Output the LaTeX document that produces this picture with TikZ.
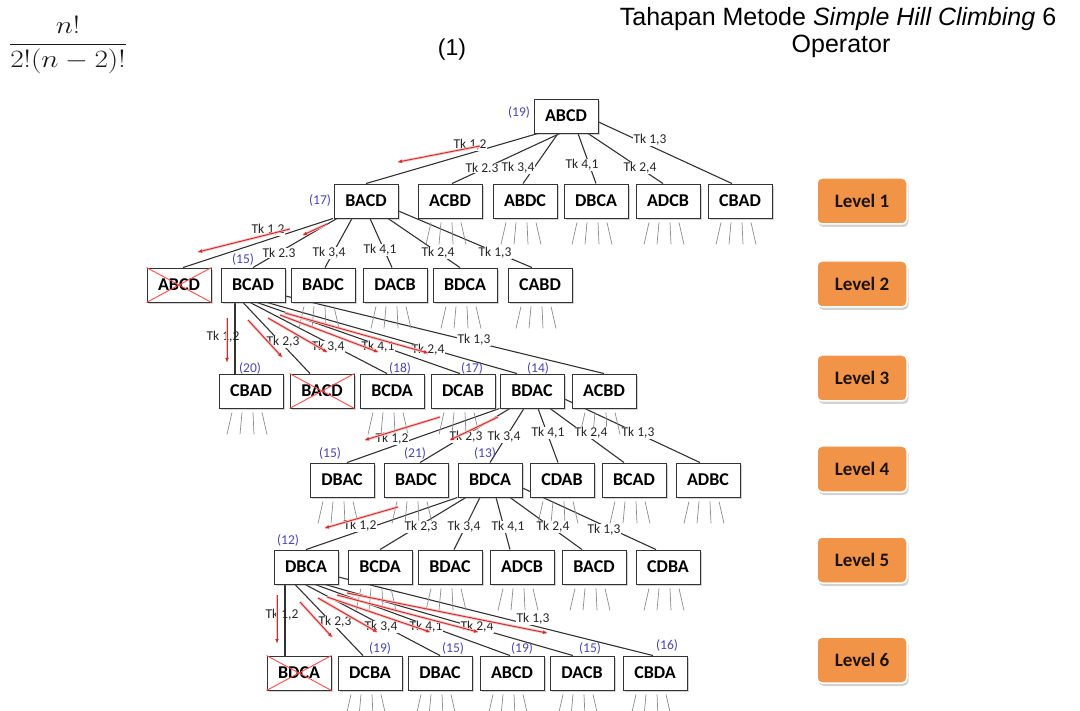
\documentclass[tikz,border=0pt]{standalone}
\usepackage{fontspec}
\usepackage{amsmath}
\usetikzlibrary{shadows,arrows.meta,calc}
\newfontfamily\carl{Carlito}
\newfontfamily\arialf{Liberation Sans}
\definecolor{wblue}{RGB}{70,70,175}
\definecolor{lvorange}{RGB}{242,148,72}
\definecolor{redarr}{RGB}{205,45,45}
\definecolor{edgegray}{RGB}{50,50,50}
\pgfdeclarelayer{bg}
\pgfsetlayers{bg,main}
\newcommand\ghoststubs[1]{%
  \draw[ghostline] ([xshift=-19pt,yshift=-4pt]#1.south) -- ++(-5pt,-22pt)
                   ([xshift=-9pt,yshift=-4pt]#1.south) -- ++(-2pt,-22pt)
                   ([xshift=2pt,yshift=-4pt]#1.south) -- ++(1pt,-22pt)
                   ([xshift=11pt,yshift=-4pt]#1.south) -- ++(5pt,-22pt);}
\newcommand\crossout[1]{%
  \draw[crossline] (#1.north west) -- (#1.south east) (#1.south west) -- (#1.north east);}
\begin{document}
\begin{tikzpicture}[x=1pt,y=-1pt,
  sbox/.style={draw=black!80, line width=0.9pt, fill=white, minimum width=64pt,
    minimum height=34pt, inner sep=0pt, font=\carl\bfseries\fontsize{18}{18}\selectfont,
    drop shadow={shadow xshift=2pt, shadow yshift=-2pt, opacity=0.35}},
  lbl/.style={fill=white, inner sep=0.6pt, font=\carl\fontsize{13.5}{13.5}\selectfont, text=black!85},
  lblnf/.style={inner sep=0.6pt, font=\carl\fontsize{13.5}{13.5}\selectfont, text=black!85},
  wt/.style={font=\carl\fontsize{13.5}{13.5}\selectfont, text=wblue},
  lvbox/.style={rounded corners=5pt, fill=lvorange, draw=white, line width=1.5pt,
    minimum width=90pt, minimum height=46pt, font=\carl\bfseries\fontsize{19}{19}\selectfont,
    text=black!85!brown, drop shadow={shadow xshift=1.5pt, shadow yshift=-3pt, opacity=0.35}},
  conn/.style={draw=edgegray, line width=1.1pt},
  ghostline/.style={draw=black!45, line width=0.7pt},
  crossline/.style={draw=red!70, line width=0.9pt},
  redarrow/.style={draw=redarr, line width=0.9pt, -{Latex[length=4pt,width=4pt]},
    preaction={draw=red!25, line width=2.6pt, -}},
  headtxt/.style={font=\arialf\fontsize{25}{25}\selectfont, anchor=base, inner sep=0pt}
]
\useasboundingbox (0,0) rectangle (1080,711);

% ---------- header ----------
\node[font=\fontsize{34}{38}\selectfont, text=black!90, xscale=1.18] (frac) at (68,45) {$\dfrac{n!}{2!(n-2)!}$};
\node[headtxt, font=\arialf\fontsize{23}{23}\selectfont] (eqn) at (452,56) {(1)};
\node[headtxt] (title1) at (838,26) {Tahapan Metode \textit{Simple Hill Climbing} 6};
\node[headtxt] (title2) at (841,53) {Operator};

% ---------- nodes ----------
\node[sbox] (n0) at (566,116) {ABCD};

\node[sbox] (a1) at (366,201) {BACD};
\node[sbox] (a2) at (450,201) {ACBD};
\node[sbox] (a3) at (525,201) {ABDC};
\node[sbox] (a4) at (596,201) {DBCA};
\node[sbox] (a5) at (668,201) {ADCB};
\node[sbox] (a6) at (740,201) {CBAD};

\node[sbox] (b1) at (179,285) {ABCD};
\node[sbox] (b2) at (253,285) {BCAD};
\node[sbox] (b3) at (323,285) {BADC};
\node[sbox] (b4) at (395,285) {DACB};
\node[sbox] (b5) at (465,285) {BDCA};
\node[sbox] (b6) at (540,285) {CABD};

\node[sbox] (c1) at (251,391) {CBAD};
\node[sbox] (c2) at (322,391) {BACD};
\node[sbox] (c3) at (392,391) {BCDA};
\node[sbox] (c4) at (463,391) {DCAB};
\node[sbox] (c5) at (532,391) {BDAC};
\node[sbox] (c6) at (604,391) {ACBD};

\node[sbox] (d1) at (342,480) {DBAC};
\node[sbox] (d2) at (416,480) {BADC};
\node[sbox] (d3) at (490,480) {BDCA};
\node[sbox] (d4) at (562,480) {CDAB};
\node[sbox] (d5) at (634,480) {BCAD};
\node[sbox] (d6) at (708,480) {ADBC};

\node[sbox] (e1) at (306,567) {DBCA};
\node[sbox] (e2) at (380,567) {BCDA};
\node[sbox] (e3) at (450,567) {BDAC};
\node[sbox] (e4) at (522,567) {ADCB};
\node[sbox] (e5) at (594,567) {BACD};
\node[sbox] (e6) at (668,567) {CDBA};

\node[sbox] (f1) at (299,673) {BDCA};
\node[sbox] (f2) at (370,673) {DCBA};
\node[sbox] (f3) at (440,673) {DBAC};
\node[sbox] (f4) at (512,673) {ABCD};
\node[sbox] (f5) at (582,673) {DACB};
\node[sbox] (f6) at (655,673) {CBDA};

\crossout{b1}
\crossout{c2}
\crossout{f1}

% ---------- level badges ----------
\node[lvbox] (L1) at (862,201) {Level 1};
\node[lvbox] (L2) at (862,284) {Level 2};
\node[lvbox] (L3) at (862,378) {Level 3};
\node[lvbox] (L4) at (862,469) {Level 4};
\node[lvbox] (L5) at (862,560) {Level 5};
\node[lvbox] (L6) at (862,660) {Level 6};

% ---------- weights ----------
\node[wt] (w0) at (519,113) {(19)};
\node[wt] (w1) at (320,201) {(17)};
\node[wt] (w2) at (243,260) {(15)};
\node[wt] (w3a) at (250,368) {(20)};
\node[wt] (w3b) at (400,368) {(18)};
\node[wt] (w3c) at (472,368) {(17)};
\node[wt] (w3d) at (538,368) {(14)};
\node[wt] (w4a) at (330,453) {(15)};
\node[wt] (w4b) at (415,453) {(21)};
\node[wt] (w4c) at (485,453) {(13)};
\node[wt] (w5) at (288,540) {(12)};
\node[wt] (w6a) at (380,648) {(19)};
\node[wt] (w6b) at (453,648) {(15)};
\node[wt] (w6c) at (522,648) {(19)};
\node[wt] (w6d) at (590,648) {(15)};
\node[wt] (w6e) at (667,645) {(16)};

% ---------- connectors & stubs (background) ----------
\begin{pgfonlayer}{bg}
% level 0 -> 1
\draw[conn] ([xshift=-28pt]n0.south) -- (a1.north);
\draw[conn] ([xshift=-6pt]n0.south) -- ([xshift=2pt]a2.north);
\draw[conn] ([xshift=-8pt]n0.south) -- ([xshift=-2pt]a3.north);
\draw[conn] ([xshift=12pt]n0.south) -- (a4.north);
\draw[conn] ([xshift=22pt]n0.south) -- ([xshift=-5pt]a5.north);
\draw[conn] ([yshift=-6pt]n0.east) -- ([xshift=-8pt]a6.north);
% level 1 -> 2
\draw[conn] ([xshift=-33pt]a1.south) -- ([xshift=4pt]b1.north);
\draw[conn] ([xshift=-29pt]a1.south) -- (b2.north);
\draw[conn] ([xshift=-14pt]a1.south) -- ([xshift=2pt]b3.north);
\draw[conn] ([xshift=4pt]a1.south) -- ([xshift=-3pt]b4.north);
\draw[conn] ([xshift=22pt]a1.south) -- ([xshift=-5pt]b5.north);
\draw[conn] ([yshift=-10pt]a1.east) -- ([xshift=-8pt]b6.north);
% level 2 -> 3
\draw[conn] ([xshift=-18pt]b2.south) -- ([xshift=-16pt]c1.north);
\draw[conn] ([xshift=-10pt]b2.south) -- ([xshift=-12pt]c2.north);
\draw[conn] ([xshift=-3pt]b2.south) -- ([xshift=-5pt]c3.north);
\draw[conn] ([xshift=4pt]b2.south) -- ([xshift=-3pt]c4.north);
\draw[conn] ([xshift=14pt]b2.south) -- ([xshift=-15pt]c5.north);
\draw[conn] ([yshift=-11pt]b2.east) -- (c6.north);
% level 3 -> 4
\draw[conn] (c5.south west) -- ([xshift=5pt]d1.north);
\draw[conn] ([xshift=-22pt]c5.south) -- ([xshift=4pt]d2.north);
\draw[conn] ([xshift=-8pt]c5.south) -- (d3.north);
\draw[conn] ([xshift=6pt]c5.south) -- ([xshift=-4pt]d4.north);
\draw[conn] ([xshift=18pt]c5.south) -- ([xshift=-10pt]d5.north);
\draw[conn] ([yshift=-8pt]c5.east) -- ([xshift=-8pt]d6.north);
% level 4 -> 5
\draw[conn] (d3.south west) -- (e1.north);
\draw[conn] ([xshift=-24pt]d3.south) -- (e2.north);
\draw[conn] ([xshift=-10pt]d3.south) -- ([xshift=4pt]e3.north);
\draw[conn] ([xshift=6pt]d3.south) -- ([xshift=-12pt]e4.north);
\draw[conn] ([xshift=20pt]d3.south) -- ([xshift=-12pt]e5.north);
\draw[conn] ([yshift=-8pt]d3.east) -- ([xshift=-12pt]e6.north);
% level 5 -> 6
\draw[conn] ([xshift=-21pt]e1.south) -- ([xshift=-14pt]f1.north);
\draw[conn] ([xshift=-11pt]e1.south) -- ([xshift=-7pt]f2.north);
\draw[conn] ([xshift=-1pt]e1.south) -- (f3.north);
\draw[conn] ([xshift=9pt]e1.south) -- ([xshift=-2pt]f4.north);
\draw[conn] ([xshift=19pt]e1.south) -- ([xshift=-9pt]f5.north);
\draw[conn] ([yshift=-10pt]e1.east) -- ([xshift=-2pt]f6.north);
% stubs
\foreach \s in {a2,a3,a4,a5,a6,b3,b4,b5,b6,c1,c3,c4,c6,d1,d2,d4,d5,d6,e2,e3,e4,e5,e6,f2,f3,f4,f5,f6}{\ghoststubs{\s}}
\end{pgfonlayer}

% ---------- connector labels ----------
\node[lbl] (t01) at (470,145) {Tk 1,2};
\node[lbl] (t02) at (482,168) {Tk 2.3};
\node[lbl] (t03) at (518,168) {Tk 3,4};
\node[lbl] (t04) at (582,165) {Tk 4,1};
\node[lbl] (t05) at (640,168) {Tk 2,4};
\node[lbl] (t06) at (650,140) {Tk 1,3};

\node[lbl] (t11) at (268,230) {Tk 1,2};
\node[lbl] (t12) at (279,253) {Tk 2.3};
\node[lbl] (t13) at (329,253) {Tk 3,4};
\node[lbl] (t14) at (380,250) {Tk 4,1};
\node[lbl] (t15) at (438,253) {Tk 2,4};
\node[lbl] (t16) at (495,253) {Tk 1,3};

\node[lblnf] (t21) at (223,337) {Tk 1,2};
\node[lbl] (t22) at (283,342) {Tk 2,3};
\node[lbl] (t23) at (328,347) {Tk 3,4};
\node[lbl] (t24) at (378,347) {Tk 4,1};
\node[lbl] (t25) at (428,350) {Tk 2,4};
\node[lbl] (t26) at (474,340) {Tk 1,3};

\node[lbl] (t31) at (392,439) {Tk 1,2};
\node[lbl] (t32) at (466,437) {Tk 2,3};
\node[lbl] (t33) at (504,437) {Tk 3,4};
\node[lbl] (t34) at (548,433) {Tk 4,1};
\node[lbl] (t35) at (591,433) {Tk 2,4};
\node[lbl] (t36) at (638,433) {Tk 1,3};

\node[lbl] (t41) at (360,526) {Tk 1,2};
\node[lbl] (t42) at (421,527) {Tk 2,3};
\node[lbl] (t43) at (464,527) {Tk 3,4};
\node[lbl] (t44) at (508,527) {Tk 4,1};
\node[lbl] (t45) at (553,527) {Tk 2,4};
\node[lbl] (t46) at (604,530) {Tk 1,3};

\node[lblnf] (t51) at (282,615) {Tk 1,2};
\node[lbl] (t52) at (335,622) {Tk 2,3};
\node[lbl] (t53) at (381,627) {Tk 3,4};
\node[lbl] (t54) at (426,627) {Tk 4,1};
\node[lbl] (t55) at (477,627) {Tk 2,4};
\node[lbl] (t56) at (533,619) {Tk 1,3};

% ---------- red search arrows ----------
\draw[redarrow] (480,146) -- (398,162);
\draw[redarrow] (290,229) -- (198,252);
\draw[redarrow] (327,224) -- (303,235);
\draw[redarrow] (227,318) -- (227,362);
\draw[redarrow] (248,320) -- (282,357);
\draw[redarrow] (268,318) -- (327,352);
\draw[redarrow] (280,315) -- (378,352);
\draw[redarrow] (285,313) -- (428,353);
\draw[redarrow] (440,417) -- (365,440);
\draw[redarrow] (498,417) -- (450,440);
\draw[redarrow] (398,507) -- (325,528);
\draw[redarrow] (277,595) -- (277,643);
\draw[redarrow] (300,602) -- (332,637);
\draw[redarrow] (318,598) -- (377,632);
\draw[redarrow] (327,597) -- (430,632);
\draw[redarrow] (337,595) -- (478,632);
\draw[redarrow] (347,593) -- (547,633);
\end{tikzpicture}
\end{document}
